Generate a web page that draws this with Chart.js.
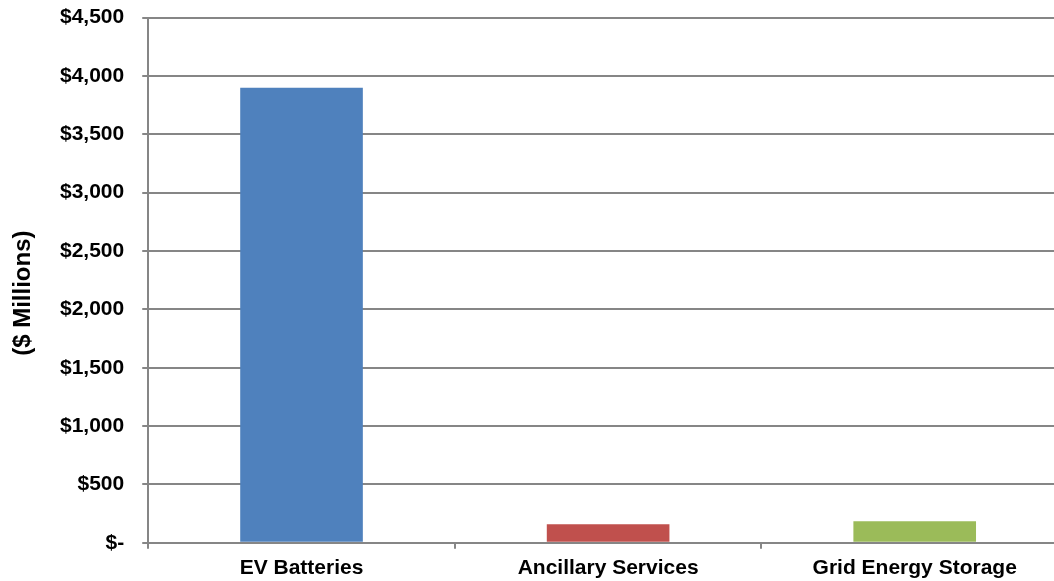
<!DOCTYPE html>
<html><head><meta charset="utf-8">
<script src="https://cdn.jsdelivr.net/npm/chart.js@4.4.0/dist/chart.umd.min.js"></script>
<style>
html,body{margin:0;padding:0;overflow:hidden;background:#fff;}
#wrap{position:absolute;left:0;top:-13px;width:1068px;height:601px;}
</style></head>
<body>
<div id="wrap"><canvas id="c"></canvas></div>
<script>
const categories = ["EV Batteries", "Ancillary Services", "Grid Energy Storage"];
const values = [3900, 160, 185];
const barColors = ["#4F81BD", "#C0504D", "#9BBB59"];
const yMin = 0, yMax = 4500, yStep = 500;
const yTitle = "($ Millions)";

function fmt(v){ return v === 0 ? "$-" : "$" + v.toLocaleString("en-US"); }
const FF = "Liberation Sans, Arial, sans-serif";

// y-axis title drawn beside the axis, centred slightly below the plot middle (as in the original)
const yTitlePlugin = {
  id: "yTitle",
  afterDraw(chart) {
    const ctx = chart.ctx, a = chart.chartArea;
    ctx.save();
    ctx.translate(23, (a.top + a.bottom) / 2 + 13);
    ctx.rotate(-Math.PI / 2);
    ctx.font = "bold 24px " + FF;
    ctx.fillStyle = "#000";
    ctx.textAlign = "center";
    ctx.textBaseline = "middle";
    ctx.fillText(yTitle, 0, 0);
    ctx.restore();
  }
};

new Chart(document.getElementById("c"), {
  type: "bar",
  data: { labels: categories, datasets: [{ data: values, backgroundColor: barColors, borderWidth: 0, barPercentage: 0.4, categoryPercentage: 1.0 }] },
  options: {
    responsive: true, maintainAspectRatio: false, animation: false,
    layout: { padding: { top: 0, right: 0, left: 42, bottom: 0 } },
    plugins: { legend: { display: false }, tooltip: { enabled: false } },
    scales: {
      x: {
        grid: { display: true, drawOnChartArea: false, drawTicks: true, tickLength: 6, color: "#868686", lineWidth: 2, offset: true },
        border: { display: true, color: "#868686", width: 2 },
        ticks: { color: "#000", font: { family: FF, size: 21, weight: "bold" }, padding: 7, maxRotation: 0 }
      },
      y: {
        min: yMin, max: yMax,
        grid: { color: "#868686", lineWidth: 2, tickLength: 6 },
        border: { display: true, color: "#868686", width: 2 },
        ticks: { stepSize: yStep, callback: v => fmt(v), color: "#000", font: { family: FF, size: 21, weight: "bold" }, padding: 18 },
        title: { display: false }
      }
    }
  },
  plugins: [yTitlePlugin]
});
</script>
</body></html>
